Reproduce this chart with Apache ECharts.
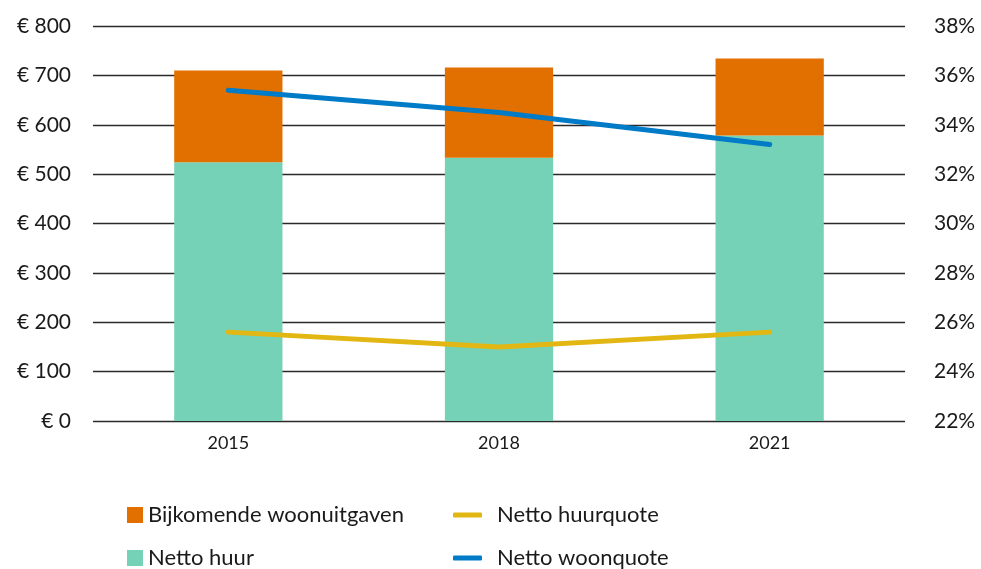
<!DOCTYPE html>
<html>
<head>
<meta charset="utf-8">
<script src="https://cdn.jsdelivr.net/npm/echarts@6/dist/echarts.min.js"></script>
<style>html,body{margin:0;padding:0;background:#fff}#c{width:981px;height:569px}</style>
</head>
<body>
<div id="c"></div>
<script>
const categories = ['2015', '2018', '2021'];
const nettoHuur = [524, 533, 578];
const bijkomend = [186, 183, 156];
const huurquote = [25.6, 25.0, 25.6];
const woonquote = [35.4, 34.5, 33.2];

const FONT = 'Lato, "Open Sans", sans-serif';
const TXT = { fontSize: 22, fontFamily: FONT, color: '#1a1a1a' };
function barLegend(name, top) {
  return { left: 127, top: top, icon: 'rect', itemWidth: 16, itemHeight: 16, padding: 0,
    textStyle: TXT, data: [name] };
}
function lineLegend(name, top) {
  return { left: 453, top: top, icon: 'roundRect', itemWidth: 29, itemHeight: 5, padding: 0,
    textStyle: Object.assign({}, TXT, { padding: [0, 0, 0, 10] }), data: [name] };
}
const chart = echarts.init(document.getElementById('c'));
chart.setOption({
  animation: false,
  textStyle: { fontFamily: FONT, color: '#1a1a1a' },
  grid: { left: 93, right: 76, top: 26, bottom: 148 },
  legend: [
    barLegend('Bijkomende woonuitgaven', 504),
    barLegend('Netto huur', 547),
    lineLegend('Netto huurquote', 504),
    lineLegend('Netto woonquote', 547)
  ],
  xAxis: {
    type: 'category', data: categories,
    axisLine: { show: false }, axisTick: { show: false },
    axisLabel: { fontSize: 18, margin: 13, color: '#1a1a1a', fontFamily: FONT }
  },
  yAxis: [
    {
      type: 'value', min: 0, max: 800, interval: 100,
      axisLine: { show: false }, axisTick: { show: false },
      axisLabel: { formatter: '€ {value}', fontSize: 21, margin: 22, color: '#1a1a1a', fontFamily: FONT },
      splitLine: { show: true, lineStyle: { color: '#2a2a2a', width: 1.3 } }
    },
    {
      type: 'value', min: 22, max: 38, interval: 2, position: 'right',
      axisLine: { show: false }, axisTick: { show: false },
      axisLabel: { formatter: '{value}%', fontSize: 21, margin: 29, color: '#1a1a1a', fontFamily: FONT },
      splitLine: { show: false }
    }
  ],
  series: [
    {
      name: 'Netto huur', type: 'bar', stack: 'a', barWidth: '40%',
      itemStyle: { color: '#76d2b6' }, data: nettoHuur
    },
    {
      name: 'Bijkomende woonuitgaven', type: 'bar', stack: 'a', barWidth: '40%',
      itemStyle: { color: '#e17000' }, data: bijkomend
    },
    {
      name: 'Netto huurquote', type: 'line', yAxisIndex: 1, symbol: 'none',
      lineStyle: { color: '#e2b713', width: 5, cap: 'round' }, itemStyle: { color: '#e2b713' },
      data: huurquote
    },
    {
      name: 'Netto woonquote', type: 'line', yAxisIndex: 1, symbol: 'none',
      lineStyle: { color: '#007bc7', width: 5, cap: 'round' }, itemStyle: { color: '#007bc7' },
      data: woonquote
    }
  ]
});
</script>
</body>
</html>
